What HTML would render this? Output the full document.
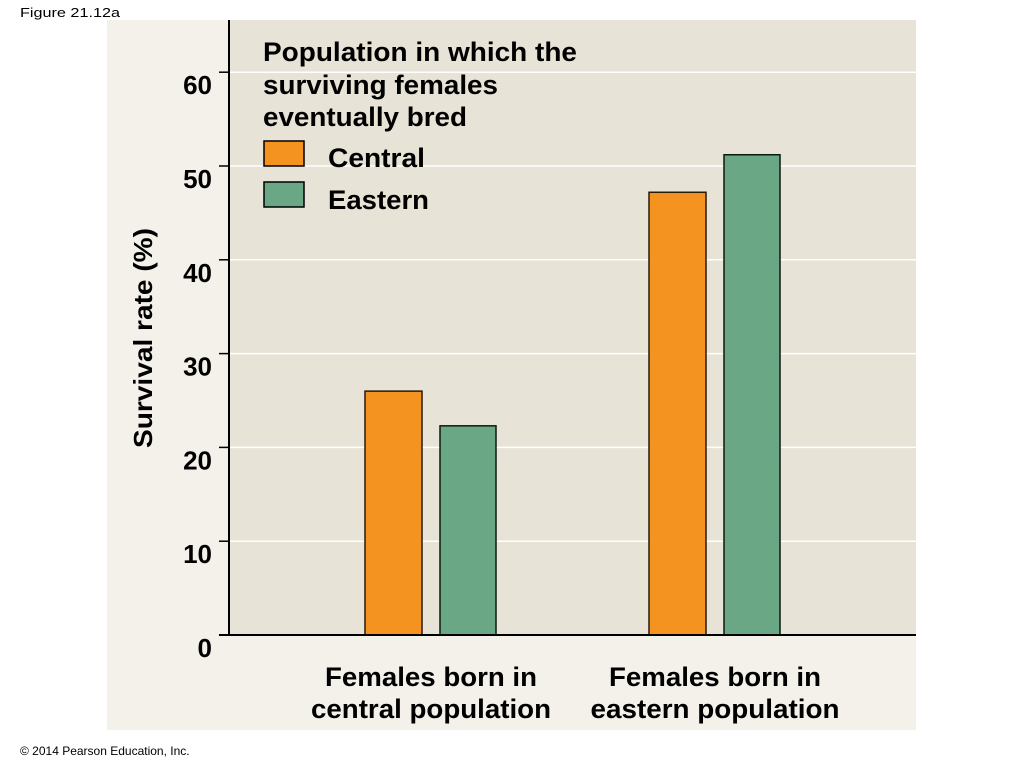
<!DOCTYPE html>
<html><head><meta charset="utf-8"><style>
body{margin:0;background:#fff;width:1024px;height:768px;overflow:hidden;font-family:"Liberation Sans",sans-serif}
svg{display:block}
</style></head><body>
<svg width="1024" height="768" xmlns="http://www.w3.org/2000/svg">
<text x="20" y="17" font-size="13" textLength="100" lengthAdjust="spacingAndGlyphs" fill="#000">Figure 21.12a</text>
<rect x="107" y="20" width="809" height="710" fill="#f3f1ea"/>
<rect x="229" y="20" width="687" height="615" fill="#e7e3d6"/>
<g id="grid"></g>
<g id="bars"></g>
<line x1="229" y1="20" x2="229" y2="635" stroke="#000" stroke-width="2"/>
<line x1="219" y1="635" x2="916" y2="635" stroke="#000" stroke-width="2"/>
<text transform="translate(152,338) rotate(-90)" text-anchor="middle" font-size="26" font-weight="bold" textLength="220" lengthAdjust="spacingAndGlyphs">Survival rate (%)</text>
<g font-size="27" font-weight="bold">
<text x="263" y="61" textLength="314" lengthAdjust="spacingAndGlyphs">Population in which the</text>
<text x="263" y="94" textLength="235" lengthAdjust="spacingAndGlyphs">surviving females</text>
<text x="263" y="126" textLength="204" lengthAdjust="spacingAndGlyphs">eventually bred</text>
<rect x="264" y="141" width="40" height="25" fill="#f49320" stroke="#000" stroke-width="1.5"/>
<text x="328" y="167" textLength="97" lengthAdjust="spacingAndGlyphs">Central</text>
<rect x="264" y="182" width="40" height="25" fill="#6aa885" stroke="#000" stroke-width="1.5"/>
<text x="328" y="209" textLength="101" lengthAdjust="spacingAndGlyphs">Eastern</text>
</g>
<g id="xlabels" font-size="27" font-weight="bold" text-anchor="middle"></g>
<text x="20" y="755" font-size="12">© 2014 Pearson Education, Inc.</text>
</svg>
<script>
const categories=[["Females born in","central population"],["Females born in","eastern population"]];
const centralValues=[26,47.2];
const easternValues=[22.3,51.2];
const yTicks=[0,10,20,30,40,50,60];
const NS="http://www.w3.org/2000/svg";
const y0=635,pxPer=9.38;
function y(v){return y0-v*pxPer;}
const groupCenters=[430,714];
function mk(tag,attrs,parent){const e=document.createElementNS(NS,tag);for(const k in attrs)e.setAttribute(k,attrs[k]);parent.appendChild(e);return e;}
const grid=document.getElementById('grid');
yTicks.forEach(t=>{
  if(t>0){const l=mk('line',{x1:229,x2:916,y1:y(t),y2:y(t),stroke:'#fff','stroke-width':1.5},grid);
  
  }
  const tk=mk('line',{x1:219,x2:229,y1:y(t),y2:y(t),stroke:'#000','stroke-width':1.5},grid);
  
  
  const tx=mk('text',{x:212,y:y(t)+22,'text-anchor':'end','font-size':26,'font-weight':'bold'},grid);
  tx.textContent=t;
  
  
});
const bars=document.getElementById('bars');
const labelWidths=[[212,240],[212,249]];
categories.forEach((c,i)=>{
  const cx=groupCenters[i];
  const b1=mk('rect',{x:cx-65,y:y(centralValues[i]),width:57,height:centralValues[i]*pxPer,fill:'#f49320',stroke:'#2a1a0a','stroke-width':1.5},bars);
  
  
  const b2=mk('rect',{x:cx+10,y:y(easternValues[i]),width:56,height:easternValues[i]*pxPer,fill:'#6aa885',stroke:'#0a1a10','stroke-width':1.5},bars);
  
  
  const xl=document.getElementById('xlabels');
  c.forEach((line,j)=>{
    const t=mk('text',{x:cx+1,y:686+j*32,textLength:labelWidths[i][j],lengthAdjust:'spacingAndGlyphs'},xl);
    t.textContent=line;
    
    
  });
});
</script>
</body></html>
